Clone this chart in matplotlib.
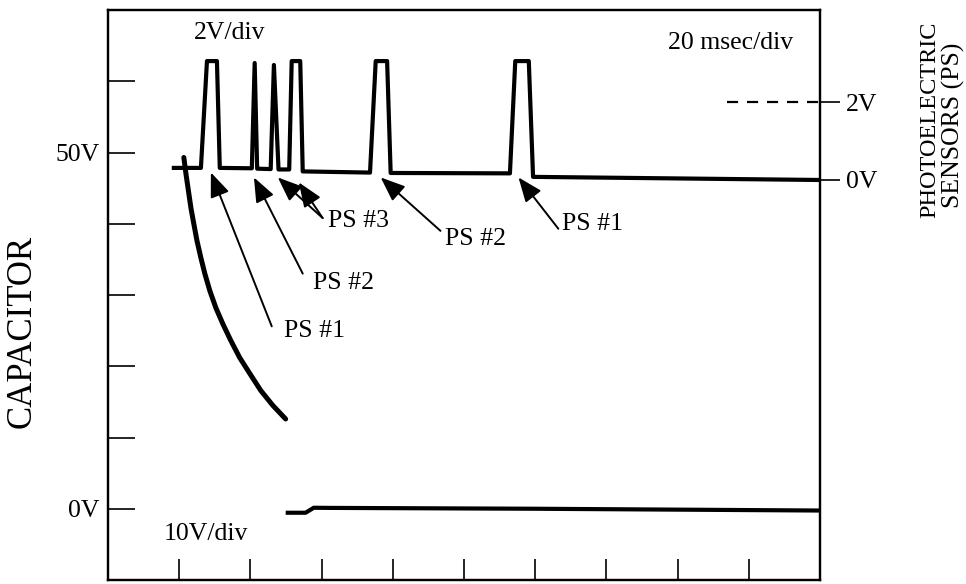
import matplotlib
matplotlib.use("Agg")
import matplotlib.pyplot as plt

plt.rcParams['font.family'] = ['Liberation Serif', 'DejaVu Serif']

# capacitor voltage (left axis, volts) vs time (ms)
cap_t = [21.3, 21.9, 22.6, 23.3, 24.1, 25.0, 26.1, 27.2, 28.6, 30.3, 32.3,
         34.5, 37.0, 39.8, 42.9, 46.3, 49.9]
cap_v = [49.3, 47.0, 44.6, 42.2, 40.0, 37.6, 35.2, 33.0, 30.6, 28.2, 25.9,
         23.6, 21.2, 19.0, 16.6, 14.5, 12.6]

# capacitor trace after discharge, near 0V
cap0_t = [50.5, 55.5, 57.8, 62.0, 120.0, 200.0]
cap0_v = [-0.56, -0.56, 0.14, 0.12, 0.0, -0.25]

# photoelectric sensor trace (right axis, volts)
ps_t = [18.5, 26.1, 27.8, 30.6, 31.4, 40.4, 41.2, 41.9, 45.7, 46.6, 47.9,
        50.9, 51.6, 54.0, 54.7, 73.6, 75.2, 78.4, 79.4, 112.9, 114.4, 118.2,
        119.4, 200.0]
ps_v = [0.31, 0.31, 3.05, 3.05, 0.31, 0.30, 3.0, 0.29, 0.28, 2.95, 0.27,
        0.27, 3.05, 3.05, 0.22, 0.19, 3.05, 3.05, 0.18, 0.17, 3.05, 3.05,
        0.08, 0.0]

# arrows: (tip t, tip v, tail t, tail v) in left-axis data units
arrows = [(28.9, 47.2, 46.0, 25.6),
          (41.0, 46.5, 54.7, 33.0),
          (47.7, 46.5, 60.3, 40.8),
          (53.6, 45.8, 60.3, 40.8),
          (76.6, 46.5, 93.4, 39.0),
          (115.3, 46.5, 126.5, 39.3)]
labels = [("PS #1", 49.4, 25.0),
          ("PS #2", 57.5, 31.7),
          ("PS #3", 61.7, 40.4),
          ("PS #2", 94.8, 37.9),
          ("PS #1", 127.6, 40.0)]

fig = plt.figure(figsize=(9.66, 5.84), dpi=100)
ax = fig.add_axes([108/966, 1 - 580/584, 712/966, 570/584])
ax2 = ax.twinx()

ax.set_xlim(0, 200)
ax.set_ylim(-10, 70)
ax2.set_ylim(-10.26, 4.36)

ax.plot(cap_t, cap_v, color='black', lw=3.6, solid_capstyle='round')
ax.plot(cap0_t, cap0_v, color='black', lw=3.0)
ax2.plot(ps_t, ps_v, color='black', lw=3.0, solid_joinstyle='round')
ax2.plot([173.9, 200], [2, 2], color='black', lw=1.6, ls=(0, (5, 4)))

for tip_t, tip_v, tail_t, tail_v in arrows:
    ax.annotate('', xy=(tip_t, tip_v), xytext=(tail_t, tail_v),
                arrowprops=dict(arrowstyle='-|>,head_length=0.75,head_width=0.3',
                                mutation_scale=20, lw=1.4, color='black',
                                shrinkA=0, shrinkB=0))
for txt, t, v in labels:
    ax.text(t, v, txt, fontsize=18.5, ha='left', va='center')

ax.text(24.1, 66.8, "2V/div", fontsize=18.5, ha='left', va='center')
ax.text(157.4, 65.3, "20 msec/div", fontsize=18.5, ha='left', va='center')
ax.text(15.7, -3.5, "10V/div", fontsize=18.5, ha='left', va='center')

ax.set_xticks(range(20, 200, 20))
ax.set_xticklabels([])
ax.set_yticks(range(0, 70, 10))
ax.set_yticklabels(['0V', '', '', '', '', '50V', ''], fontsize=18.5)
ax.tick_params(axis='x', direction='in', length=15, width=1.2)
ax.tick_params(axis='y', direction='in', length=19.5, width=1.2, pad=6)

ax2.set_yticks([0, 2])
ax2.set_yticklabels(['0V', '2V'], fontsize=18.5)
ax2.tick_params(axis='y', direction='out', length=14.5, width=1.2, pad=4)

for a in (ax, ax2):
    for s in a.spines.values():
        s.set_linewidth(1.6)

fig.text(22/966, 1 - 331/584, "CAPACITOR", rotation=90, fontsize=25,
         ha='center', va='center')
fig.text(930/966, 1 - 120/584, "PHOTOELECTRIC", rotation=90, fontsize=17.5,
         ha='center', va='center')
fig.text(953/966, 1 - 125/584, "SENSORS (PS)", rotation=90, fontsize=18.5,
         ha='center', va='center')

fig.savefig("out.png", dpi=100)
